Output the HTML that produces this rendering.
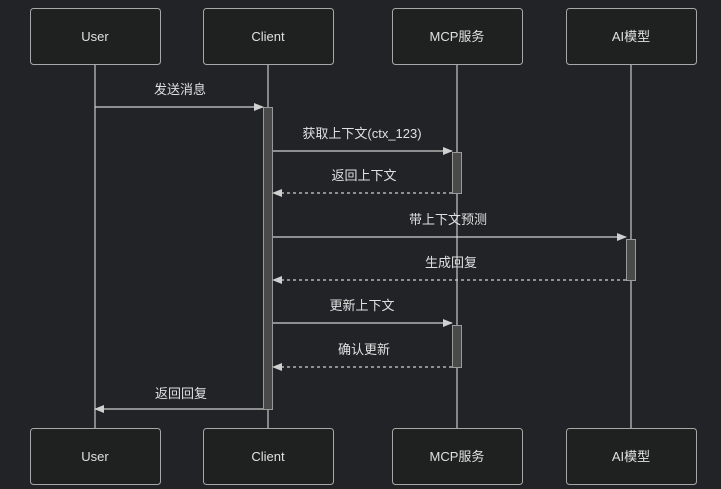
<!DOCTYPE html>
<html><head><meta charset="utf-8"><style>
html,body{margin:0;padding:0;background:#222327;}
svg{display:block}
text{font-family:"Liberation Sans","Noto Sans CJK SC",sans-serif;font-size:13px;fill:#e0e0e0;text-anchor:middle}
</style></head><body>
<svg width="721" height="489" viewBox="0 0 721 489">
<defs>
<marker id="a" markerWidth="10" markerHeight="8" refX="9" refY="4" orient="auto" markerUnits="userSpaceOnUse">
<path d="M0,0 L10,4 L0,8 Z" fill="#d0d0d0"/></marker>
</defs>
<g stroke="#bdbdbd" stroke-width="1.3">
<line x1="95" y1="64" x2="95" y2="428"/>
<line x1="268" y1="64" x2="268" y2="428"/>
<line x1="457" y1="64" x2="457" y2="428"/>
<line x1="631" y1="64" x2="631" y2="428"/>
</g>
<g fill="#1f2020" stroke="#a8a8a8" stroke-width="1">
<rect x="30.5" y="8.5" width="130" height="56" rx="3"/>
<rect x="203.5" y="8.5" width="130" height="56" rx="3"/>
<rect x="392.5" y="8.5" width="130" height="56" rx="3"/>
<rect x="566.5" y="8.5" width="130" height="56" rx="3"/>
<rect x="30.5" y="428.5" width="130" height="56" rx="3"/>
<rect x="203.5" y="428.5" width="130" height="56" rx="3"/>
<rect x="392.5" y="428.5" width="130" height="56" rx="3"/>
<rect x="566.5" y="428.5" width="130" height="56" rx="3"/>
</g>
<g fill="#4a4a4a" stroke="#9a9a9a" stroke-width="1">
<rect x="263.5" y="107.5" width="9" height="302"/>
<rect x="452.5" y="152.5" width="9" height="41"/>
<rect x="452.5" y="325.5" width="9" height="42"/>
<rect x="626.5" y="239.5" width="9" height="41"/>
</g>
<text x="95" y="41">User</text><text x="268" y="41">Client</text><text x="457" y="41">MCP服务</text><text x="631" y="41">AI模型</text>
<text x="95" y="461">User</text><text x="268" y="461">Client</text><text x="457" y="461">MCP服务</text><text x="631" y="461">AI模型</text>
<g stroke="#d0d0d0" stroke-width="1.3" fill="none">
<line x1="95" y1="107" x2="263" y2="107" marker-end="url(#a)"/>
<line x1="273" y1="151" x2="452" y2="151" marker-end="url(#a)"/>
<line x1="452" y1="193" x2="273" y2="193" stroke-dasharray="3,3" marker-end="url(#a)"/>
<line x1="273" y1="237" x2="626" y2="237" marker-end="url(#a)"/>
<line x1="626" y1="280" x2="273" y2="280" stroke-dasharray="3,3" marker-end="url(#a)"/>
<line x1="273" y1="323" x2="452" y2="323" marker-end="url(#a)"/>
<line x1="452" y1="367" x2="273" y2="367" stroke-dasharray="3,3" marker-end="url(#a)"/>
<line x1="263" y1="409" x2="95" y2="409" marker-end="url(#a)"/>
</g>
<text x="180" y="94">发送消息</text>
<text x="362" y="138">获取上下文(ctx_123)</text>
<text x="364" y="180">返回上下文</text>
<text x="448" y="224">带上下文预测</text>
<text x="451" y="267">生成回复</text>
<text x="362" y="310">更新上下文</text>
<text x="364" y="354">确认更新</text>
<text x="181" y="398">返回回复</text>
</svg>
</body></html>
